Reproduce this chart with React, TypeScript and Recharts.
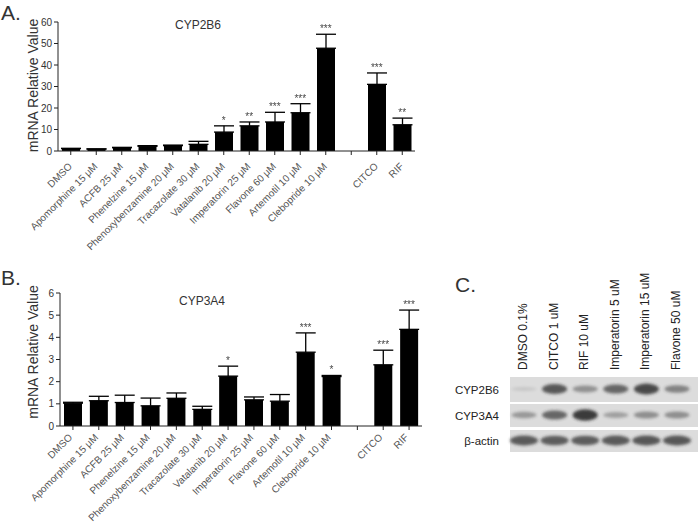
import React from "react";
import { ComposedChart, Bar, Line, XAxis, YAxis, ErrorBar, LabelList } from "recharts";

const FONT = "'Liberation Sans', Arial, Helvetica, sans-serif";

// treatment groups (the empty one is the gap before the positive controls)
const treatments = [
    "DMSO",
    "Apomorphine 15 μM",
    "ACFB 25 μM",
    "Phenelzine 15 μM",
    "Phenoxybenzamine 20 μM",
    "Tracazolate 30 μM",
    "Vatalanib 20 μM",
    "Imperatorin 25 μM",
    "Flavone 60 μM",
    "Artemotil 10 μM",
    "Clebopride 10 μM",
    "",
    "CITCO",
    "RIF",
];

// panel A - CYP2B6
const cyp2b6Mean = [1.1, 0.9, 1.5, 2.2, 2.5, 3.1, 8.8, 11.7, 13.5, 17.8, 47.8, null, 31.0, 12.2];
const cyp2b6Err = [0.15, 0.1, 0.2, 0.3, 0.25, 1.4, 2.9, 1.8, 4.5, 4.2, 6.5, null, 5.3, 3.1];
const cyp2b6Sig = ["", "", "", "", "", "", "*", "**", "***", "***", "***", "", "***", "**"];
const cyp2b6Ticks = [0, 10, 20, 30, 40, 50, 60];

// panel B - CYP3A4
const cyp3a4Mean = [1.03, 1.14, 1.06, 0.91, 1.25, 0.75, 2.25, 1.18, 1.12, 3.33, 2.23, null, 2.76, 4.36];
const cyp3a4Err = [0.04, 0.2, 0.33, 0.35, 0.24, 0.14, 0.45, 0.13, 0.3, 0.87, 0.05, null, 0.66, 0.87];
const cyp3a4Sig = ["", "", "", "", "", "", "*", "", "", "***", "*", "", "***", "***"];
const cyp3a4Ticks = [0, 1, 2, 3, 4, 5, 6];

// panel C - western blot
const blotLanes = ["DMSO 0.1%", "CITCO 1 uM", "RIF 10 uM", "Imperatorin 5 uM", "Imperatorin 15 uM", "Flavone 50 uM"];
const blotRows = ["CYP2B6", "CYP3A4", "β-actin"];
const cyp2b6Bands = [0.02, 0.8, 0.4, 0.7, 0.9, 0.5];
const cyp3a4Bands = [0.35, 0.7, 1.0, 0.3, 0.42, 0.42];
const actinBands = [0.78, 0.76, 0.76, 0.78, 0.8, 0.8];

function buildRows(mean: (number | null)[], err: (number | null)[], sig: string[]) {
    return treatments.map((name, i) => ({
        name,
        mean: mean[i],
        err: mean[i] == null ? null : [0, err[i]],
        top: mean[i] == null ? null : (mean[i] as number) + (err[i] as number),
        sig: sig[i],
    }));
}

const SlantTick = ({ x, y, payload, dx, dy }: any) => (
    <text
        transform={`translate(${x + dx},${y + dy}) rotate(-45)`}
        textAnchor="end"
        fontSize={10}
        fontFamily={FONT}
        fill="#555"
    >
        {payload.value}
    </text>
);

// stars above the error caps
const Stars = (p: any) => {
    const x = p.x ?? p.viewBox?.x;
    const y = p.y ?? p.viewBox?.y;
    if (!p.value || x == null || y == null) return null;
    return (
        <g opacity={0.99}>
            <text x={x} y={y - 2} textAnchor="middle" fontSize={10} fontFamily={FONT} fill="#444" stroke="none">
                {p.value}
            </text>
        </g>
    );
};

function BarPanel({ data, ticks, top, height, width, marginTop, marginRight, xHeight, yWidth, title, titleX, titleY, letter, labelY, tickDx, tickDy }: any) {
    const yMax = ticks[ticks.length - 1];
    return (
        <div style={{ position: "absolute", left: 0, top, width, height }}>
            <ComposedChart width={width} height={height} data={data} margin={{ top: marginTop, right: marginRight, left: 0, bottom: 0 }} barCategoryGap={0}>
                <XAxis
                    dataKey="name"
                    interval={0}
                    height={xHeight}
                    tick={<SlantTick dx={tickDx} dy={tickDy} />}
                    tickSize={4}
                    axisLine={{ stroke: "#222" }}
                    tickLine={{ stroke: "#222" }}
                />
                <YAxis
                    domain={[0, yMax]}
                    ticks={ticks}
                    width={yWidth}
                    tickSize={4}
                    tickMargin={2}
                    axisLine={{ stroke: "#222" }}
                    tickLine={{ stroke: "#222" }}
                    tick={{ fontSize: 10, fill: "#333", fontFamily: FONT }}
                />
                <Bar dataKey="mean" fill="#000" barSize={18} isAnimationActive={false}>
                    <ErrorBar dataKey="err" direction="y" width={10} stroke="#000" strokeWidth={1.3} />
                </Bar>
                <Line dataKey="top" stroke="none" dot={false} activeDot={false} legendType="none" isAnimationActive={false}>
                    <LabelList dataKey="sig" content={<Stars />} />
                </Line>
            </ComposedChart>
            <svg style={{ position: "absolute", left: 0, top: 0, pointerEvents: "none" }} width={width} height={height}>
                <text x={1} y={20} fontSize={21} fontFamily={FONT} fill="#333">{letter}</text>
                <text x={titleX} y={titleY} textAnchor="middle" fontSize={12} fontFamily={FONT} fill="#333">{title}</text>
                <text
                    x={33}
                    y={labelY}
                    transform={`rotate(-90,33,${labelY})`}
                    textAnchor="middle"
                    dominantBaseline="central"
                    fontSize={14}
                    fontFamily={FONT}
                    fill="#333"
                >
                    mRNA Relative Value
                </text>
            </svg>
        </div>
    );
}

function Blot() {
    const laneX = (i: number) => 524 + i * 30.6;
    const rowTop = [377, 404, 430];
    const rowH = [25, 23, 22];
    const bands = [cyp2b6Bands, cyp3a4Bands, actinBands];
    return (
        <svg
            style={{ position: "absolute", left: 440, top: 260 }}
            width={260}
            height={200}
            viewBox="440 260 260 200"
        >
            <defs>
                <filter id="blur" x="-30%" y="-100%" width="160%" height="300%">
                    <feGaussianBlur stdDeviation="1.4" />
                </filter>
            </defs>
            <text x={455} y={292} fontSize={21} fontFamily={FONT} fill="#333">C.</text>
            {blotLanes.map((lane, i) => (
                <text
                    key={lane}
                    x={laneX(i) + 3}
                    y={370}
                    transform={`rotate(-90,${laneX(i) + 3},370)`}
                    fontSize={12}
                    fontFamily={FONT}
                    fill="#222"
                >
                    {lane}
                </text>
            ))}
            {blotRows.map((row, r) => (
                <g key={row}>
                    <text x={499} y={rowTop[r] + rowH[r] / 2 + 4} textAnchor="end" fontSize={11.5} fontFamily={FONT} fill="#222">
                        {row}
                    </text>
                    <rect x={510} y={rowTop[r]} width={188} height={rowH[r]} fill="#dcdcdc" />
                    {bands[r].map((v, i) => (
                        <ellipse
                            key={i}
                            cx={laneX(i)}
                            cy={rowTop[r] + rowH[r] / 2 - 0.5}
                            rx={r === 2 ? 14 : 12.5}
                            ry={1.8 + 4 * v}
                            fill="#2b2b2b"
                            opacity={0.1 + 0.8 * v}
                            filter="url(#blur)"
                        />
                    ))}
                </g>
            ))}
        </svg>
    );
}

export default function App() {
    const dataA = buildRows(cyp2b6Mean, cyp2b6Err, cyp2b6Sig);
    const dataB = buildRows(cyp3a4Mean, cyp3a4Err, cyp3a4Sig);
    return (
        <div style={{ position: "relative", width: 700, height: 524, background: "#fff", overflow: "hidden" }}>
            <style>{"body{margin:0}"}</style>
            <BarPanel
                data={dataA}
                ticks={cyp2b6Ticks}
                top={0}
                height={260}
                width={430}
                marginTop={22}
                marginRight={15}
                xHeight={109}
                yWidth={58}
                title="CYP2B6"
                titleX={198}
                titleY={29}
                letter="A."
                labelY={85.5}
                tickDx={2}
                tickDy={10}
            />
            <BarPanel
                data={dataB}
                ticks={cyp3a4Ticks}
                top={265}
                height={259}
                width={440}
                marginTop={28}
                marginRight={18}
                xHeight={98}
                yWidth={60}
                title="CYP3A4"
                titleX={202}
                titleY={40}
                letter="B."
                labelY={87}
                tickDx={0}
                tickDy={6}
            />
            <Blot />
        </div>
    );
}
